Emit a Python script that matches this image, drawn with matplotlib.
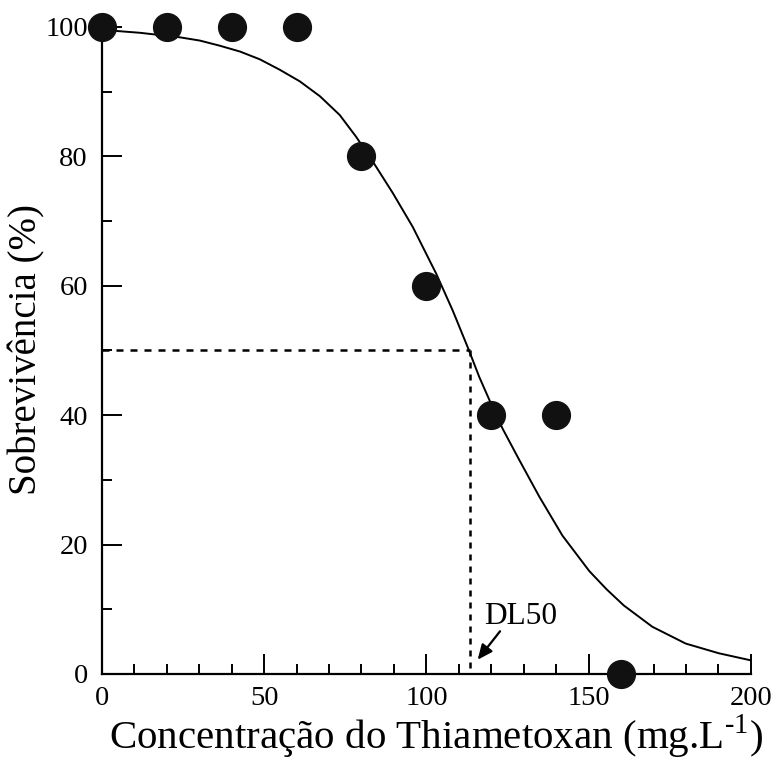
import matplotlib.pyplot as plt
from matplotlib.ticker import MultipleLocator

plt.rcParams['font.family'] = ['Liberation Serif', 'DejaVu Serif']
plt.rcParams['mathtext.fontset'] = 'custom'
plt.rcParams['mathtext.rm'] = 'Liberation Serif'

# observed survival (%) per concentration
conc = [0, 20, 40, 60, 80, 100, 120, 140, 160]
surv = [100, 100, 100, 100, 80, 60, 40, 40, 0]

# fitted curve
fit_x = [0, 4.1, 11.8, 24.1, 30.2, 36.4, 42.6, 48.7, 54.8, 61.0, 67.2, 73.3,
         78.4, 83.5, 89.7, 95.8, 103, 108.1, 112.9, 116.3, 119.9, 123.5, 128.6,
         134.8, 141.9, 150.2, 155.5, 160.8, 169.6, 179.9, 190.1, 200]
fit_y = [99.7, 99.4, 99.1, 98.4, 97.9, 97.1, 96.2, 95.0, 93.4, 91.6, 89.3, 86.4,
         83.0, 79.2, 74.3, 69.1, 61.9, 56.2, 50.3, 45.9, 41.8, 37.9, 33.1,
         27.4, 21.4, 15.9, 13.1, 10.6, 7.3, 4.7, 3.2, 2.1]

dl50 = 113.3

fig = plt.figure(figsize=(7.71, 7.6), dpi=100)
ax = fig.add_axes([0.132, 0.1132, 0.842, 0.8513])

ax.plot(fit_x, fit_y, color='black', lw=1.4, zorder=2)
ax.plot([0, dl50], [50, 50], color='black', lw=1.8, dashes=(2.8, 2.8), zorder=1)
ax.plot([dl50, dl50], [50, 0], color='black', lw=1.8, dashes=(2.4, 2.4), zorder=1)
ax.plot(conc, surv, 'o', color='#111111', ms=20, clip_on=False, zorder=3)

ax.text(117.9, 7.7, 'DL50', fontsize=22.5, va='baseline', ha='left')
ax.annotate('', xy=(115.8, 2.2), xytext=(122.7, 6.6),
            arrowprops=dict(arrowstyle='-|>,head_length=0.45,head_width=0.2',
                            mutation_scale=20, lw=1.6, color='black',
                            shrinkA=0, shrinkB=0))

ax.set_xlim(0, 200)
ax.set_ylim(0, 100)
ax.xaxis.set_major_locator(MultipleLocator(50))
ax.xaxis.set_minor_locator(MultipleLocator(10))
ax.yaxis.set_major_locator(MultipleLocator(20))
ax.yaxis.set_minor_locator(MultipleLocator(10))

for s in ['top', 'right']:
    ax.spines[s].set_visible(False)
for s in ['left', 'bottom']:
    ax.spines[s].set_linewidth(1.6)

ax.tick_params(which='both', direction='in', width=1.4, labelsize=20.5)
ax.tick_params(which='major', length=14.4)
ax.tick_params(which='minor', length=7.2)
ax.tick_params(axis='x', which='major', pad=9)
ax.tick_params(axis='y', which='major', pad=10)

ax.set_xlabel(r'Concentração do Thiametoxan (mg.L$^{\text{-}1}$)', fontsize=29.5)
ax.xaxis.label.set_va('baseline')
ax.xaxis.set_label_coords(0.515, -0.117)
ax.set_ylabel('Sobrevivência (%)', fontsize=28)
ax.yaxis.label.set_va('center')
ax.yaxis.set_label_coords(-0.115, 0.502)

fig.savefig('out.png', dpi=100)
